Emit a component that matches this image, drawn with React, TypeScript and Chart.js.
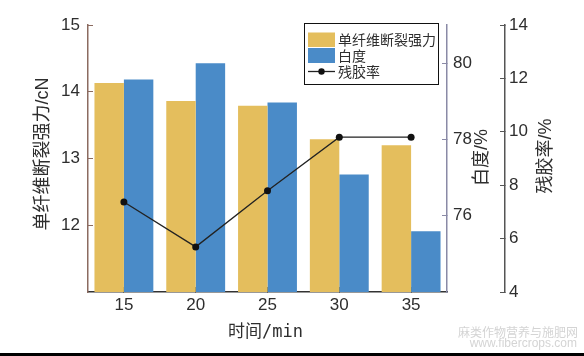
import React, { useEffect, useRef } from 'react';
import { Chart, registerables } from 'chart.js';

Chart.register(...registerables);

// ---- data ----
const categories = ['15', '20', '25', '30', '35'];
const strengthValues = [14.13, 13.86, 13.79, 13.29, 13.2];
const whitenessValues = [79.57, 80.0, 78.97, 77.08, 75.59];
const residueValues = [7.37, 5.69, 7.79, 9.8, 9.8];

const strengthTicks = [12, 13, 14, 15];
const whitenessTicks = [76, 78, 80];
const residueTicks = [4, 6, 8, 10, 12, 14];

const seriesNames = ['单纤维断裂强力', '白度', '残胶率'];
const xTitle = '时间/min';
const leftTitle = '单纤维断裂强力/cN';
const whiteTitle = '白度/%';
const residueTitle = '残胶率/%';
const watermark1 = '麻类作物营养与施肥网';
const watermark2 = 'www.fibercrops.com';

const YELLOW = '#E4BE5D';
const BLUE = '#4A8BC8';
const TEXT = '#2e2e2e';
const TICK_FONT = { family: "'Liberation Sans', Arial, sans-serif", size: 17 };
const TITLE_FONT = "18px 'Liberation Sans', 'Noto Sans CJK SC', sans-serif";

const setTicks = (vals: number[]) => (scale: any) => {
  scale.ticks = vals.map((v) => ({ value: v }));
};

const decorPlugin = {
  id: 'decor',
  beforeDraw(chart: any) {
    const { ctx } = chart;
    ctx.save();
    ctx.fillStyle = '#ffffff';
    ctx.fillRect(0, 0, chart.width, chart.height);
    ctx.restore();
  },
  afterDraw(chart: any) {
    const { ctx, chartArea, scales } = chart;
    ctx.save();
    ctx.fillStyle = TEXT;
    ctx.textAlign = 'center';
    ctx.textBaseline = 'middle';
    const vtitle = (text: string, x: number, y: number) => {
      ctx.save();
      ctx.translate(x, y);
      ctx.rotate(-Math.PI / 2);
      ctx.fillText(text, 0, 0);
      ctx.restore();
    };
    ctx.font = TITLE_FONT;
    vtitle(leftTitle, scales.y.left + 43, 154);
    vtitle(whiteTitle, scales.yW.left + 35, 157.5);
    vtitle(residueTitle, scales.yR.left + 41, 156);

    ctx.font = "17px 'DejaVu Sans Mono', 'Noto Sans CJK SC', monospace";
    ctx.fillText(xTitle, (chartArea.left + chartArea.right) / 2 - 2, 333);

    // legend
    const ds = chart.data.datasets;
    ctx.strokeStyle = '#111';
    ctx.lineWidth = 1;
    ctx.strokeRect(304.5, 23.5, 134, 61);
    ctx.fillStyle = ds[0].backgroundColor;
    ctx.fillRect(308, 32.5, 27, 14.5);
    ctx.fillStyle = ds[1].backgroundColor;
    ctx.fillRect(308, 48, 27, 15);
    ctx.strokeStyle = ds[2].borderColor;
    ctx.lineWidth = 1.3;
    ctx.beginPath();
    ctx.moveTo(308, 71.5);
    ctx.lineTo(335, 71.5);
    ctx.stroke();
    ctx.fillStyle = ds[2].pointBackgroundColor;
    ctx.beginPath();
    ctx.arc(321.5, 71.5, 3.2, 0, Math.PI * 2);
    ctx.fill();
    ctx.fillStyle = TEXT;
    ctx.textAlign = 'left';
    ctx.font = "14px 'Noto Sans CJK SC', sans-serif";
    ctx.fillText(ds[0].label, 338, 40);
    ctx.fillText(ds[1].label, 338, 56);
    ctx.fillText(ds[2].label, 338, 72);

    // watermark
    ctx.fillStyle = '#d4d4d4';
    ctx.textAlign = 'right';
    ctx.font = "12px 'Noto Sans CJK SC', sans-serif";
    ctx.fillText(watermark1, 578, 332);
    ctx.font = "12px 'Liberation Sans', sans-serif";
    ctx.fillText(watermark2, 577, 343.5);

    // bottom rule
    ctx.fillStyle = '#000';
    ctx.fillRect(0, 353, chart.width, 3);
    ctx.restore();
  },
};

export default function App() {
  const ref = useRef<HTMLCanvasElement | null>(null);

  useEffect(() => {
    if (!ref.current) return;
    const chart = new Chart(ref.current, {
      type: 'bar',
      data: {
        labels: categories,
        datasets: [
          {
            type: 'bar',
            label: seriesNames[0],
            data: strengthValues,
            yAxisID: 'y',
            backgroundColor: YELLOW,
            categoryPercentage: 0.82,
            barPercentage: 1,
            order: 2,
          },
          {
            type: 'bar',
            label: seriesNames[1],
            data: whitenessValues,
            yAxisID: 'yW',
            backgroundColor: BLUE,
            categoryPercentage: 0.82,
            barPercentage: 1,
            order: 2,
          },
          {
            type: 'line',
            label: seriesNames[2],
            data: residueValues,
            yAxisID: 'yR',
            borderColor: '#222',
            borderWidth: 1.3,
            pointRadius: 3.5,
            pointBackgroundColor: '#111',
            pointBorderColor: '#111',
            pointBorderWidth: 0,
            tension: 0,
            order: 0,
          } as any,
        ],
      },
      options: {
        animation: false,
        responsive: false,
        devicePixelRatio: 1,
        layout: { padding: { left: 0, right: 0, top: 25, bottom: 0 } },
        plugins: { legend: { display: false }, tooltip: { enabled: false } },
        scales: {
          x: {
            type: 'category',
            offset: true,
            grid: { display: true, drawOnChartArea: false, drawTicks: true, tickLength: -5, offset: false, color: '#333' },
            border: { color: '#333', width: 1.5 },
            ticks: { font: TICK_FONT, color: TEXT, padding: 8, maxRotation: 0 },
            afterFit: (s: any) => { s.height = 64; },
          },
          y: {
            position: 'left',
            min: 11,
            max: 15,
            afterBuildTicks: setTicks(strengthTicks),
            grid: { drawOnChartArea: false, drawTicks: true, tickLength: -5, color: '#8b6b60' },
            border: { color: '#8b6b60', width: 1.5 },
            ticks: { font: TICK_FONT, color: TEXT, padding: 13 },
            afterFit: (s: any) => { s.width = 88; },
          },
          yW: {
            position: 'right',
            weight: 0,
            min: 74,
            max: 81,
            afterBuildTicks: setTicks(whitenessTicks),
            grid: { drawOnChartArea: false, drawTicks: true, tickLength: -5, color: '#8a8aa6' },
            border: { color: '#8a8aa6', width: 1.5 },
            ticks: { font: TICK_FONT, color: TEXT, padding: 11 },
            afterFit: (s: any) => { s.width = 58; },
          },
          yR: {
            position: 'right',
            weight: 1,
            min: 4,
            max: 14,
            afterBuildTicks: setTicks(residueTicks),
            grid: { drawOnChartArea: false, drawTicks: true, tickLength: -5, color: '#555' },
            border: { color: '#555', width: 1.5 },
            ticks: { font: TICK_FONT, color: TEXT, padding: 9 },
            afterFit: (s: any) => { s.width = 79; },
          },
        } as any,
      },
      plugins: [decorPlugin],
    });
    return () => chart.destroy();
  }, []);

  return (
    <div style={{ position: 'fixed', left: 0, top: 0, width: 584, height: 356, background: '#fff' }}>
      <canvas ref={ref} width={584} height={356} style={{ display: 'block', width: 584, height: 356 }} />
    </div>
  );
}
